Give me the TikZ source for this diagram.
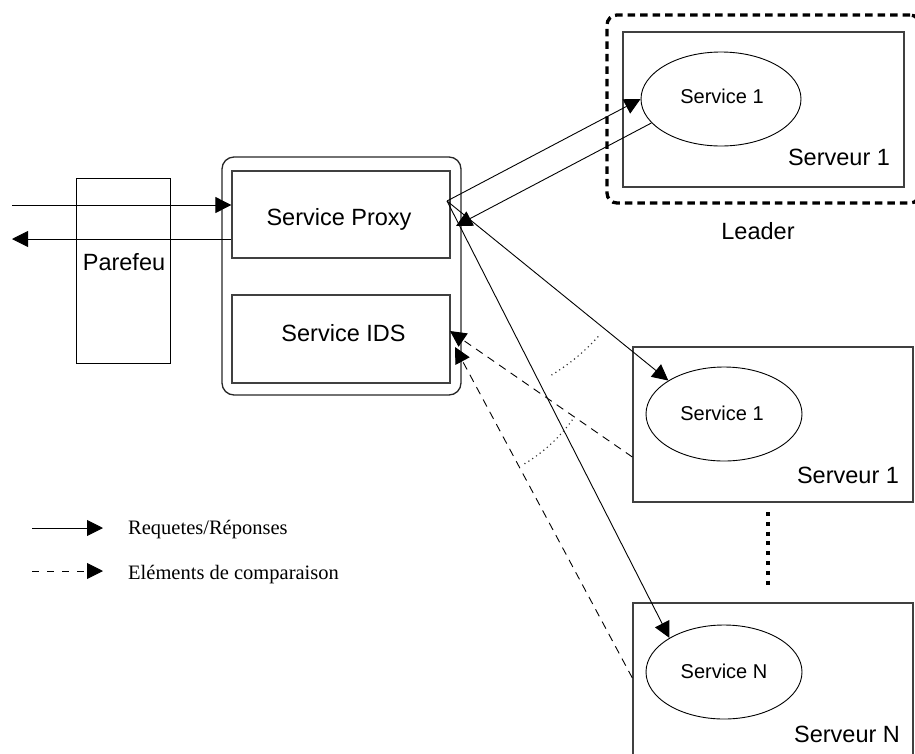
\documentclass[tikz,border=0pt]{standalone}
\usepackage{fontspec}
\setmainfont{Liberation Serif}
\setsansfont{Liberation Sans}
\usetikzlibrary{arrows.meta,shapes.geometric,calc}

\begin{document}
\begin{tikzpicture}[x=1pt,y=-1pt,
  box/.style={draw=black!75,line width=1.3pt,rectangle,inner sep=0pt},
  svc/.style={draw,ellipse,line width=0.9pt,minimum width=156pt,minimum height=94pt,inner sep=0pt},
  lbl/.style={font=\sffamily\fontsize{23.5}{28}\selectfont,anchor=base,inner sep=0pt},
  slbl/.style={font=\sffamily\fontsize{20}{24}\selectfont,anchor=base,inner sep=0pt},
  leg/.style={font=\fontsize{20.5}{24}\selectfont,anchor=base west,inner sep=0pt},
  arr/.style={line width=0.9pt,-{Triangle[length=16pt,width=16pt]}},
  cmp/.style={arr,dash pattern=on 8pt off 6pt},
  angmark/.style={draw=black!80,line width=1.6pt,line cap=round,dash pattern=on 0pt off 4.6pt},
  sepdots/.style={line width=4pt,dash pattern=on 4pt off 5.8pt},
  leaderbox/.style={draw,rectangle,line width=3.3pt,dash pattern=on 7.5pt off 5pt,rounded corners=10pt,inner sep=0pt}
]
\useasboundingbox (0,0) rectangle (915,753);
\clip (0,0) rectangle (915,753);

% firewall
\node[box,draw=black,line width=1pt,minimum width=94pt,minimum height=185pt] (fw) at (123,270.5) {};
\node[lbl] (fwl) at (124,270) {Parefeu};

% host with proxy and IDS
\node[box,draw=black!85,rounded corners=12pt,minimum width=239pt,minimum height=238pt] (host) at (341.5,276) {};
\node[box,minimum width=218pt,minimum height=87pt] (proxy) at (341,214.5) {};
\node[lbl] (proxyl) at (339,225) {Service Proxy};
\node[box,minimum width=218pt,minimum height=88pt] (ids) at (341,339) {};
\node[lbl] (idsl) at (343.5,341.5) {Service IDS};

% leader server
\node[leaderbox,minimum width=313pt,minimum height=188pt] (leader) at (763.5,109) {};
\node[lbl] (leaderl) at (758,239) {Leader};
\node[box,minimum width=281pt,minimum height=155pt] (srvA) at (763.5,109.5) {};
\node[svc,minimum width=160pt] (svcA) at (721,99) {};
\node[slbl] (svcAl) at (722,103.3) {Service 1};
\node[lbl] (srvAl) at (839,165.7) {Serveur 1};

% other servers
\node[box,minimum width=280pt,minimum height=155pt] (srvB) at (773,424.5) {};
\node[svc] (svcB) at (724,414) {};
\node[slbl] (svcBl) at (722,420) {Service 1};
\node[lbl] (srvBl) at (848,483) {Serveur 1};

\node[box,minimum width=280pt,minimum height=170pt] (srvN) at (773,688) {};
\node[svc] (svcN) at (724,672) {};
\node[slbl] (svcNl) at (724,678) {Service N};
\node[lbl] (srvNl) at (847,742) {Serveur N};

% vertical ellipsis between servers
\coordinate (dotsA) at (768,512);
\coordinate (dotsB) at (768,586);
\draw[sepdots] (dotsA) -- (dotsB);

% client traffic through the firewall
\coordinate (inA) at (12,205);
\coordinate (outB) at (12,239);
\draw[arr] (inA) -- (inA -| proxy.west);
\draw[arr] (outB -| proxy.west) -- (outB);

% requests and responses
\coordinate (o) at (447,201);
\coordinate (ret) at (456,226);
\draw[arr] (o) -- (svcA.west);
\draw[arr] (svcA.199) -- (ret);
\draw[arr] (o) -- (svcB.149);
\draw[arr] (o) -- (svcN.148);

% comparison data back to the IDS
\coordinate (cmpA) at (450,331);
\coordinate (cmpB) at (455,347);
\draw[cmp] (srvB.west |- 0,457) -- (cmpA);
\draw[cmp] (srvN.west |- 0,678) -- (cmpB);

% angle marks
\coordinate (c2) at (441,325);
\draw[angmark] ([shift={(42:203)}]o) arc[start angle=42,end angle=60,radius=203];
\draw[angmark] ([shift={(36:162)}]c2) arc[start angle=36,end angle=59,radius=162];

% legend
\coordinate (lgA1) at (32,528);
\coordinate (lgA2) at (103,528);
\coordinate (lgB1) at (32,571);
\coordinate (lgB2) at (103,571);
\draw[arr] (lgA1) -- (lgA2);
\draw[arr,dash pattern=on 6.7pt off 8.3pt] (lgB1) -- (lgB2);
\node[leg] (lgAl) at (128,534) {Requetes/Réponses};
\node[leg] (lgBl) at (128,579) {Eléments de comparaison};
\end{tikzpicture}
\end{document}
